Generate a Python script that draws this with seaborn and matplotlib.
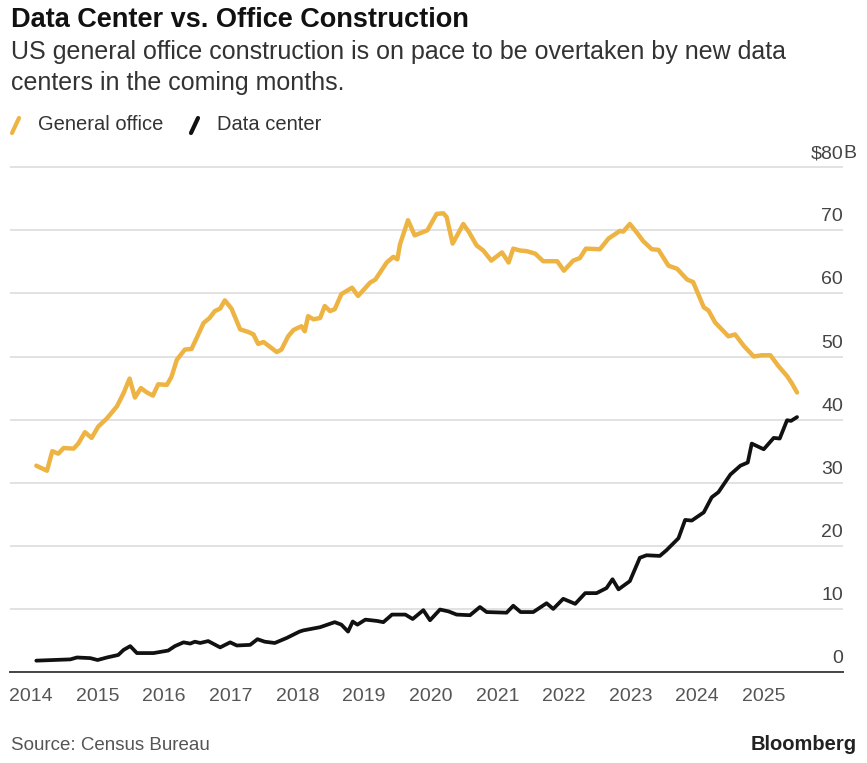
import matplotlib
matplotlib.use("Agg")
import matplotlib.pyplot as plt
import matplotlib.transforms as mtransforms
from matplotlib.lines import Line2D
import numpy as np
import pandas as pd
import seaborn as sns

# ---------------- data ($ billions) ----------------
office_t = [2014.08, 2014.24, 2014.32, 2014.41, 2014.49, 2014.64, 2014.71, 2014.81, 2014.91,
            2015.01, 2015.14, 2015.29, 2015.39, 2015.48, 2015.56, 2015.65, 2015.74, 2015.83, 2015.91,
            2016.04, 2016.11, 2016.19, 2016.31, 2016.41, 2016.49, 2016.59, 2016.68, 2016.76, 2016.84, 2016.91,
            2017.01, 2017.14, 2017.26, 2017.34, 2017.41, 2017.49, 2017.58, 2017.69, 2017.76, 2017.86, 2017.94,
            2018.06, 2018.11, 2018.16, 2018.24, 2018.34, 2018.41, 2018.49, 2018.56, 2018.66, 2018.82, 2018.91,
            2019.09, 2019.17, 2019.34, 2019.44, 2019.50, 2019.54, 2019.66, 2019.76, 2019.95,
            2020.09, 2020.19, 2020.24, 2020.33, 2020.49, 2020.57, 2020.69, 2020.79, 2020.91,
            2021.07, 2021.17, 2021.24, 2021.34, 2021.44, 2021.57, 2021.69, 2021.90,
            2022.00, 2022.14, 2022.24, 2022.33, 2022.54, 2022.67, 2022.84, 2022.89, 2022.99,
            2023.09, 2023.19, 2023.32, 2023.42, 2023.57, 2023.70, 2023.85, 2023.94,
            2024.10, 2024.17, 2024.27, 2024.37, 2024.47, 2024.57, 2024.70, 2024.85, 2024.97,
            2025.10, 2025.22, 2025.35, 2025.42, 2025.50]
office_v = [32.7, 31.9, 35.0, 34.6, 35.5, 35.4, 36.2, 38.0, 37.1,
            38.9, 40.2, 42.1, 44.2, 46.5, 43.5, 45.0, 44.3, 43.8, 45.6,
            45.5, 46.8, 49.5, 51.1, 51.2, 53.0, 55.3, 56.1, 57.2, 57.6, 58.9,
            57.6, 54.3, 53.9, 53.5, 52.0, 52.3, 51.6, 50.7, 51.1, 53.2, 54.2,
            54.8, 54.0, 56.4, 55.9, 56.1, 58.0, 57.2, 57.5, 59.9, 60.9, 59.6,
            61.7, 62.2, 64.9, 65.8, 65.4, 67.8, 71.6, 69.2, 70.0,
            72.6, 72.7, 72.1, 67.9, 71.0, 69.8, 67.6, 66.8, 65.2,
            66.5, 64.9, 67.1, 66.8, 66.7, 66.3, 65.1, 65.1,
            63.6, 65.2, 65.6, 67.1, 67.0, 68.7, 69.9, 69.8, 71.0,
            69.7, 68.3, 67.0, 66.9, 64.4, 63.9, 62.2, 61.8,
            57.8, 57.3, 55.4, 54.3, 53.2, 53.5, 51.7, 50.0, 50.2,
            50.2, 48.5, 46.9, 45.8, 44.3]

dc_t = [2014.08, 2014.59, 2014.69, 2014.89, 2015.00, 2015.14, 2015.31, 2015.39, 2015.49, 2015.59,
        2015.84, 2016.06, 2016.16, 2016.29, 2016.39, 2016.46, 2016.54, 2016.66, 2016.84, 2016.99,
        2017.09, 2017.29, 2017.40, 2017.51, 2017.66, 2017.84, 2018.03, 2018.09, 2018.34, 2018.56,
        2018.66, 2018.76, 2018.83, 2018.90, 2019.02, 2019.19, 2019.29, 2019.42, 2019.62, 2019.73,
        2019.89, 2019.99, 2020.14, 2020.27, 2020.39, 2020.59, 2020.74, 2020.84, 2021.14, 2021.24,
        2021.35, 2021.54, 2021.74, 2021.84, 2021.99, 2022.17, 2022.32, 2022.49, 2022.64, 2022.73,
        2022.82, 2022.99, 2023.14, 2023.24, 2023.44, 2023.54, 2023.72, 2023.82, 2023.92, 2024.10,
        2024.22, 2024.32, 2024.50, 2024.65, 2024.76, 2024.82, 2025.00, 2025.15, 2025.24, 2025.35,
        2025.41, 2025.50]
dc_v = [1.8, 2.0, 2.3, 2.2, 1.9, 2.3, 2.7, 3.5, 4.1, 3.0,
        3.0, 3.4, 4.1, 4.7, 4.5, 4.8, 4.6, 4.9, 3.9, 4.7,
        4.2, 4.3, 5.2, 4.8, 4.6, 5.4, 6.4, 6.6, 7.1, 7.9,
        7.5, 6.4, 8.0, 7.5, 8.3, 8.1, 7.9, 9.1, 9.1, 8.4,
        9.8, 8.2, 9.9, 9.6, 9.1, 9.0, 10.3, 9.5, 9.4, 10.5,
        9.5, 9.5, 10.9, 10.0, 11.6, 10.8, 12.5, 12.5, 13.3, 14.7,
        13.1, 14.4, 18.1, 18.5, 18.4, 19.3, 21.2, 24.1, 24.0, 25.3,
        27.7, 28.5, 31.3, 32.7, 33.2, 36.2, 35.3, 37.1, 37.0, 39.9,
        39.8, 40.4]

series_names = ["General office", "Data center"]
series_colors = ["#EDB443", "#111111"]
year_ticks = list(range(2014, 2026))
y_ticks = [0, 10, 20, 30, 40, 50, 60, 70, 80]

title = "Data Center vs. Office Construction"
subtitle_1 = "US general office construction is on pace to be overtaken by new data"
subtitle_2 = "centers in the coming months."
source = "Source: Census Bureau"
brand = "Bloomberg"

# ---------------- figure ----------------
sns.set_theme(style="white")
plt.rcParams["font.family"] = ["Liberation Sans", "DejaVu Sans"]

W, H = 867, 763
fig = plt.figure(figsize=(W / 100, H / 100), dpi=100)
fig.patch.set_facecolor("white")

def fx(px):
    return px / W

def fy(py):
    return 1 - py / H

ax_left, ax_right, ax_bottom, ax_top = 10, 843, 672, 154.6
ax = fig.add_axes([fx(ax_left), fy(ax_bottom), (ax_right - ax_left) / W, (ax_bottom - ax_top) / H])

df = pd.concat([
    pd.DataFrame({"year": office_t, "value": office_v, "series": series_names[0]}),
    pd.DataFrame({"year": dc_t, "value": dc_v, "series": series_names[1]}),
], ignore_index=True)

sns.lineplot(data=df, x="year", y="value", hue="series", hue_order=series_names,
             palette=dict(zip(series_names, series_colors)), estimator=None, sort=False,
             legend=False, ax=ax, linewidth=3.0, zorder=3)
for ln, lw in zip(ax.lines, [3.2, 2.7]):
    ln.set_linewidth(lw)
    ln.set_solid_joinstyle("round")
    ln.set_solid_capstyle("round")

ax.set_xlim(2013.685, 2026.19)
ax.set_ylim(0, 82)
ax.set_xlabel("")
ax.set_ylabel("")

ax.set_yticks(y_ticks)
ax.yaxis.grid(True, color="#e2e2e2", linewidth=1.4, zorder=0)
ax.xaxis.grid(False)
ax.tick_params(axis="y", length=0, labelleft=False, labelright=False)

ax.set_xticks(year_ticks)
ax.set_xticklabels([str(y) for y in year_ticks])
minor = [y + q for y in range(2014, 2026) for q in (0.25, 0.5, 0.75) if y + q <= 2025.3]
ax.set_xticks(minor, minor=True)
ax.tick_params(axis="x", which="major", length=7.2, width=1.2, color="#444444",
               labelsize=14, labelcolor="#555555", pad=4)
ax.tick_params(axis="x", which="minor", length=3.6, width=1.1, color="#444444")

for s in ["left", "right", "top"]:
    ax.spines[s].set_visible(False)
ax.spines["bottom"].set_color("#444444")
ax.spines["bottom"].set_linewidth(1.4)
ax.spines["bottom"].set_zorder(4)

# y labels on the right, sitting above gridlines
trans = mtransforms.blended_transform_factory(ax.transAxes, ax.transData)
trans_off = mtransforms.offset_copy(trans, fig=fig, x=0, y=9, units="dots")
for v in y_ticks:
    if v == 80:
        ax.text(1.0, v, "$80", transform=trans_off, ha="right", va="baseline",
                fontsize=14, color="#444444")
        ax.text(1.0, v, "B", transform=trans_off, ha="left", va="baseline",
                fontsize=14, color="#444444")
    else:
        ax.text(1.0, v, str(v), transform=trans_off, ha="right", va="baseline",
                fontsize=14, color="#444444")

# ---------------- titles ----------------
fig.text(fx(11), fy(20), title, ha="left", va="center", fontsize=19.5,
         fontweight="bold", color="#111111")
fig.text(fx(11), fy(52), subtitle_1, ha="left", va="center", fontsize=18, color="#333333")
fig.text(fx(11), fy(83), subtitle_2, ha="left", va="center", fontsize=18, color="#333333")

# legend with slash icons
legend_items = [(12, 38), (191, 217)]
for (icon_x, text_x), name, col in zip(legend_items, series_names, series_colors):
    fig.add_artist(Line2D([fx(icon_x), fx(icon_x + 7)], [fy(133), fy(118)],
                          color=col, linewidth=3, solid_capstyle="round"))
    fig.text(fx(text_x), fy(125), name, ha="left", va="center", fontsize=14.5, color="#333333")

fig.text(fx(11), fy(745), source, ha="left", va="center", fontsize=13.5, color="#555555")
fig.text(fx(857), fy(745), brand, ha="right", va="center", fontsize=14.5,
         fontweight="bold", color="#222222")

fig.savefig("out.png", dpi=100, facecolor="white")
